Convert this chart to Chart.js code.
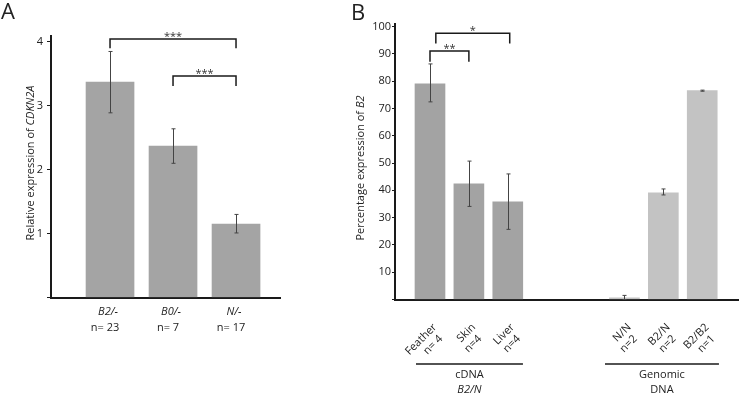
<!DOCTYPE html>
<html lang="en">
<head>
  <meta charset="UTF-8">
  <title>CDKN2A and B2 expression</title>
  <script src="https://cdn.jsdelivr.net/npm/chart.js"></script>
  <style>
    body {
      margin: 0;
      background: #fff;
      width: 740px;
      height: 396px;
      overflow: hidden;
      position: relative;
      font-family: "Open Sans", sans-serif;
    }
    .panel {
      position: absolute;
      top: 0;
      height: 396px;
    }
    #panelA { left: 0; width: 300px; }
    #panelB { left: 340px; width: 400px; }
  </style>
</head>
<body>
  <div class="panel" id="panelA"><canvas id="chartA"></canvas></div>
  <div class="panel" id="panelB"><canvas id="chartB"></canvas></div>

  <script>
    // Panel A - relative expression of CDKN2A
    const genotypesA = ["B2/-", "B0/-", "N/-"];
    const countsA = ["n= 23", "n= 7", "n= 17"];
    const valuesA = [3.37, 2.37, 1.15];
    const errHighA = [3.85, 2.64, 1.30];
    const errLowA = [2.89, 2.10, 1.01];
    const yTicksA = [1, 2, 3, 4];
    const bracketsA = [
      { from: 1, to: 3, y: 4.045, leg: 3.90, label: "***" },
      { from: 2, to: 3, y: 3.466, leg: 3.31, label: "***" }
    ];

    // Panel B - percentage expression of B2
    const tissuesB = ["Feather", "Skin", "Liver"];
    const tissueCountsB = ["n= 4", "n=4", "n=4"];
    const tissueValuesB = [79.0, 42.4, 35.8];
    const tissueErrHighB = [86.3, 50.7, 46.0];
    const tissueErrLowB = [72.4, 34.1, 25.7];
    const genomicB = ["N/N", "B2/N", "B2/B2"];
    const genomicCountsB = ["n=2", "n=2", "n=1"];
    const genomicValuesB = [0.6, 39.1, 76.5];
    const genomicErrHighB = [1.5, 40.5, 76.7];
    const genomicErrLowB = [0, 38.3, 76.3];
    const yTicksB = [10, 20, 30, 40, 50, 60, 70, 80, 90, 100];
    const bracketsB = [
      { from: 0, to: 1, y: 91.0, leg: 87.1, label: "**" },
      { from: 0.15, to: 2.05, y: 97.5, leg: 93.8, label: "*" }
    ];
    const tissuePos = [0, 1, 2];
    const genomicPos = [5, 6, 7];

    const FONT = '"Open Sans", sans-serif';
    const INK = "#1a1a1a";

    function errorBars(highs, lows) {
      return {
        id: "errorBars",
        afterDatasetsDraw(chart) {
          const ctx = chart.ctx, ys = chart.scales.y;
          ctx.save();
          ctx.strokeStyle = "#444";
          ctx.lineWidth = 1;
          chart.data.datasets.forEach((ds, d) => {
            chart.getDatasetMeta(d).data.forEach((bar, i) => {
              const x = Math.round(bar.x) + 0.5;
              const top = ys.getPixelForValue(highs[d][i]);
              const bot = ys.getPixelForValue(lows[d][i]);
              ctx.beginPath();
              ctx.moveTo(x, top); ctx.lineTo(x, bot);
              ctx.moveTo(x - 2, top); ctx.lineTo(x + 2, top);
              ctx.moveTo(x - 2, bot); ctx.lineTo(x + 2, bot);
              ctx.stroke();
            });
          });
          ctx.restore();
        }
      };
    }

    function brackets(list) {
      return {
        id: "brackets",
        afterDraw(chart) {
          const ctx = chart.ctx, xs = chart.scales.x, ys = chart.scales.y;
          ctx.save();
          ctx.strokeStyle = INK;
          ctx.lineWidth = 1.5;
          ctx.fillStyle = "#333";
          ctx.font = "11px " + FONT;
          ctx.textAlign = "center";
          ctx.textBaseline = "alphabetic";
          list.forEach(b => {
            const x1 = xs.getPixelForValue(b.from), x2 = xs.getPixelForValue(b.to);
            const y = ys.getPixelForValue(b.y), yl = ys.getPixelForValue(b.leg);
            ctx.beginPath();
            ctx.moveTo(x1, yl); ctx.lineTo(x1, y); ctx.lineTo(x2, y); ctx.lineTo(x2, yl);
            ctx.stroke();
            ctx.fillText(b.label, (x1 + x2) / 2, y + 1);
          });
          ctx.restore();
        }
      };
    }

    // rotated y title with an italic part
    function drawYTitle(ctx, parts, cx, cy) {
      ctx.save();
      ctx.translate(cx, cy);
      ctx.rotate(-Math.PI / 2);
      ctx.fillStyle = "#222";
      ctx.textBaseline = "middle";
      ctx.textAlign = "left";
      let total = 0;
      parts.forEach(p => {
        ctx.font = (p.italic ? "italic " : "") + "11px " + FONT;
        p.w = ctx.measureText(p.text).width;
        total += p.w;
      });
      let x = -total / 2;
      parts.forEach(p => {
        ctx.font = (p.italic ? "italic " : "") + "11px " + FONT;
        ctx.fillText(p.text, x, 0);
        x += p.w;
      });
      ctx.restore();
    }

    function baseOptions(o) {
      return {
        responsive: true,
        maintainAspectRatio: false,
        animation: false,
        layout: { padding: o.padding },
        plugins: { legend: { display: false }, tooltip: { enabled: false } },
        scales: {
          x: {
            type: "linear",
            offset: false,
            min: o.xMin,
            max: o.xMax,
            grid: { display: false, drawTicks: false },
            border: { display: true, color: INK, width: 2 },
            ticks: { display: false },
            afterFit: s => { s.height = o.xHeight; }
          },
          y: {
            min: 0,
            max: o.yMax,
            grid: { drawOnChartArea: false, drawTicks: true, tickLength: o.tickLen, color: INK, tickWidth: 1 },
            border: { display: true, color: INK, width: 2 },
            ticks: {
              includeBounds: false,
              stepSize: o.step,
              padding: o.tickPad,
              color: "#222",
              font: { family: FONT, size: 11 },
              callback: v => o.ticks.includes(v) ? String(v) : ""
            },
            afterFit: s => { s.width = o.yWidth; }
          }
        }
      };
    }

    new Chart(document.getElementById("chartA"), {
      type: "bar",
      data: {
        datasets: [{
          data: valuesA.map((v, i) => ({ x: i + 1, y: v })),
          backgroundColor: "#a4a4a4",
          barThickness: 48,
          grouped: false
        }]
      },
      options: baseOptions({
        padding: { top: 35.5, right: 20, left: 0, bottom: 0 },
        xMin: 0.063, xMax: 3.698, xHeight: 98.5,
        yMax: 4.1, step: 1, ticks: yTicksA, tickLen: 4, tickPad: 4, yWidth: 51
      }),
      plugins: [
        errorBars([errHighA], [errLowA]),
        brackets(bracketsA),
        {
          id: "labelsA",
          afterDraw(chart) {
            const ctx = chart.ctx, xs = chart.scales.x, bottom = chart.chartArea.bottom;
            ctx.save();
            ctx.fillStyle = "#222";
            ctx.textAlign = "center";
            ctx.textBaseline = "middle";
            genotypesA.forEach((g, i) => {
              const x = xs.getPixelForValue(i + 1);
              ctx.font = "italic 11px " + FONT;
              ctx.fillText(g, x - 2, bottom + 14);
              ctx.font = "11px " + FONT;
              ctx.fillText(countsA[i], x - 5, bottom + 30);
            });
            ctx.font = "22px " + FONT;
            ctx.textAlign = "left";
            ctx.fillText("A", 1, 13);
            ctx.restore();
            drawYTitle(ctx, [
              { text: "Relative expression of ", italic: false },
              { text: "CDKN2A", italic: true }
            ], 31, 163);
          }
        }
      ]
    });

    new Chart(document.getElementById("chartB"), {
      type: "bar",
      data: {
        datasets: [
          {
            data: tissueValuesB.map((v, i) => ({ x: tissuePos[i], y: v })),
            backgroundColor: "#a3a3a3",
            barThickness: 30,
            grouped: false
          },
          {
            data: genomicValuesB.map((v, i) => ({ x: genomicPos[i], y: v })),
            backgroundColor: "#c3c3c3",
            barThickness: 30,
            grouped: false
          }
        ]
      },
      options: baseOptions({
        padding: { top: 23.8, right: 2, left: 0, bottom: 0 },
        xMin: -0.9, xMax: 7.92, xHeight: 96.5,
        yMax: 101, step: 10, ticks: yTicksB, tickLen: 3, tickPad: 1, yWidth: 55
      }),
      plugins: [
        errorBars([tissueErrHighB, genomicErrHighB], [tissueErrLowB, genomicErrLowB]),
        brackets(bracketsB),
        {
          id: "labelsB",
          afterDraw(chart) {
            const ctx = chart.ctx, xs = chart.scales.x, bottom = chart.chartArea.bottom;
            ctx.save();
            ctx.fillStyle = "#222";
            ctx.font = "11px " + FONT;
            const names = tissuesB.concat(genomicB);
            const counts = tissueCountsB.concat(genomicCountsB);
            const pos = tissuePos.concat(genomicPos);
            pos.forEach((p, i) => {
              const x = xs.getPixelForValue(p);
              ctx.save();
              ctx.translate(x + 5, bottom + 26);
              ctx.rotate(-Math.PI / 4);
              ctx.textAlign = "right";
              ctx.textBaseline = "middle";
              ctx.fillText(names[i], 0, 0);
              ctx.fillText(counts[i], -4, 12.5);
              ctx.restore();
            });

            // group lines under the tick labels
            ctx.strokeStyle = INK;
            ctx.lineWidth = 1.5;
            const groups = [
              { from: -0.36, to: 2.39, lines: [["cDNA", false], ["B2/N", true]] },
              { from: 4.5, to: 7.43, lines: [["Genomic", false], ["DNA", false]] }
            ];
            ctx.textAlign = "center";
            ctx.textBaseline = "middle";
            groups.forEach(g => {
              const x1 = xs.getPixelForValue(g.from), x2 = xs.getPixelForValue(g.to);
              ctx.beginPath();
              ctx.moveTo(x1, bottom + 64.5);
              ctx.lineTo(x2, bottom + 64.5);
              ctx.stroke();
              g.lines.forEach((l, k) => {
                ctx.font = (l[1] ? "italic " : "") + "11px " + FONT;
                ctx.fillText(l[0], (x1 + x2) / 2, bottom + 75 + k * 15);
              });
            });

            ctx.font = "22px " + FONT;
            ctx.textAlign = "left";
            ctx.fillText("B", 11, 14);
            ctx.restore();
            drawYTitle(ctx, [
              { text: "Percentage expression of ", italic: false },
              { text: "B2", italic: true }
            ], 21, 168);
          }
        }
      ]
    });
  </script>
</body>
</html>
